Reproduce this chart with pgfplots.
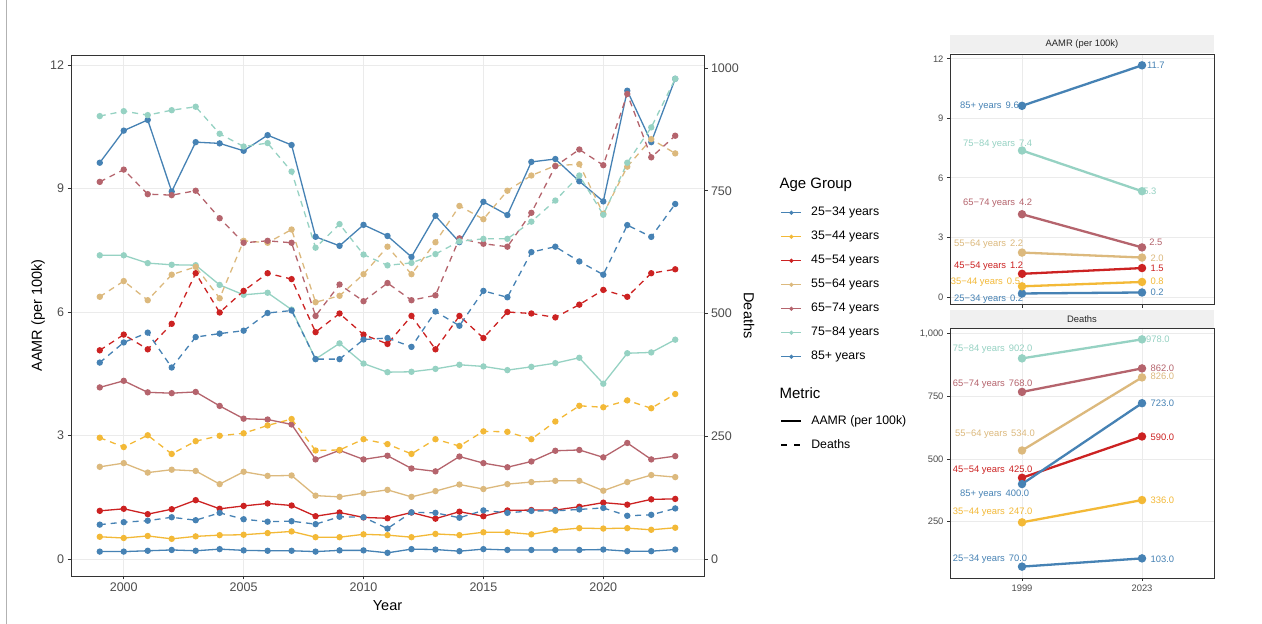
\documentclass[border=0pt]{standalone}
\usepackage{fontspec}
\setmainfont{Liberation Sans}
\usepackage{pgfplots}
\usepackage{pgfplotstable}
\pgfplotsset{compat=1.18}

\definecolor{cA}{RGB}{70,130,180}   % 25-34
\definecolor{cB}{RGB}{243,185,55}   % 35-44
\definecolor{cC}{RGB}{204,34,34}    % 45-54
\definecolor{cD}{RGB}{220,185,125}  % 55-64
\definecolor{cE}{RGB}{181,100,109}  % 65-74
\definecolor{cF}{RGB}{150,210,195}  % 75-84
\definecolor{cG}{RGB}{70,130,180}   % 85+
\definecolor{gridc}{RGB}{235,235,235}
\definecolor{framec}{RGB}{51,51,51}
\definecolor{tickc}{RGB}{77,77,77}
\definecolor{stripc}{RGB}{240,240,240}

% AAMR (per 100k) and deaths by age group, 1999-2023
\pgfplotstableread{
year a2534 a3544 a4554 a5564 a6574 a7584 a85 d2534 d3544 d4554 d5564 d6574 d7584 d85
1999 0.18 0.54 1.17 2.24 4.17 7.38 9.63 70 247 425 534 768 902 400
2000 0.18 0.51 1.22 2.33 4.33 7.38 10.41 75 228 457 566 793 912 441
2001 0.20 0.56 1.09 2.10 4.05 7.19 10.67 78 252 427 527 743 904 461
2002 0.22 0.49 1.21 2.17 4.03 7.15 8.93 85 214 479 579 741 914 390
2003 0.20 0.55 1.43 2.14 4.06 7.14 10.13 79 240 582 595 750 921 452
2004 0.24 0.58 1.22 1.82 3.72 6.66 10.10 94 251 502 531 694 866 459
2005 0.21 0.59 1.29 2.12 3.41 6.42 9.92 81 256 546 648 644 840 465
2006 0.20 0.63 1.35 2.02 3.39 6.47 10.30 76 272 582 644 648 847 501
2007 0.20 0.67 1.30 2.03 3.27 6.06 10.06 77 285 570 671 644 789 506
2008 0.18 0.53 1.04 1.54 2.42 4.86 7.83 71 221 462 523 495 634 407
2009 0.21 0.53 1.13 1.51 2.64 5.24 7.61 86 222 500 536 559 682 407
2010 0.21 0.60 1.01 1.60 2.42 4.75 8.12 85 244 457 580 525 620 447
2011 0.15 0.58 0.99 1.68 2.51 4.54 7.85 62 234 438 636 562 598 450
2012 0.24 0.53 1.13 1.51 2.20 4.55 7.34 95 214 495 580 527 603 432
2013 0.23 0.61 0.98 1.65 2.13 4.62 8.34 94 244 427 645 537 621 504
2014 0.19 0.58 1.15 1.81 2.49 4.72 7.70 84 230 495 719 653 647 475
2015 0.24 0.65 1.04 1.70 2.33 4.68 8.68 99 260 450 692 642 652 546
2016 0.22 0.65 1.18 1.82 2.23 4.59 8.36 94 259 503 750 636 652 533
2017 0.22 0.60 1.19 1.87 2.37 4.67 9.65 98 244 500 781 705 687 625
2018 0.22 0.70 1.19 1.90 2.63 4.76 9.72 98 280 492 801 800 730 636
2019 0.22 0.75 1.27 1.90 2.65 4.89 9.18 101 312 518 804 834 781 606
2020 0.23 0.74 1.37 1.66 2.47 4.26 8.69 104 309 548 703 802 701 579
2021 0.19 0.75 1.32 1.87 2.82 5.00 11.38 88 323 534 799 947 807 680
2022 0.19 0.71 1.45 2.04 2.42 5.02 10.13 90 307 582 855 818 879 656
2023 0.23 0.76 1.46 1.99 2.50 5.33 11.67 103 336 590 826 862 978 723
}\trend

% first and last year only
\pgfplotstableread{
pos a2534 a3544 a4554 a5564 a6574 a7584 a85 d2534 d3544 d4554 d5564 d6574 d7584 d85
1 0.18 0.54 1.17 2.24 4.17 7.38 9.63 70 247 425 534 768 902 400
2 0.23 0.76 1.46 1.99 2.50 5.33 11.67 103 336 590 826 862 978 723
}\ends

\newcommand{\tickfont}{\fontsize{12.5}{14}\selectfont}
\newcommand{\titlefont}{\fontsize{14.5}{17}\selectfont}
\newcommand{\labfont}{\fontsize{9.4}{11}\selectfont}

\pgfplotsset{
  base/.style={
    scale only axis, clip=false,
    axis line style={framec, line width=0.9pt},
    tick style={framec, line width=0.9pt},
    tick align=outside, major tick length=3.5pt,
    /pgf/number format/assume math mode=true,
  },
  aamr/.style={line width=1.3pt, mark=*, mark size=2.5pt},
  dths/.style={line width=1.3pt, mark=*, mark size=2.5pt,
    dash pattern=on 6pt off 5pt, mark options={solid}},
  slope/.style={line width=2.3pt, mark=*, mark size=3.0pt},
}
\tikzset{lab/.style={anchor=west, inner sep=0pt, font=\labfont}}

\begin{document}
\begin{tikzpicture}[x=1pt,y=1pt]
\useasboundingbox (0,0) rectangle (1262,624);
\fill[white] (0,0) rectangle (1262,624);
\draw[black!30, line width=0.8pt] (6.5,0) -- (6.5,624);

% ---- main panel: AAMR on the left axis ----
\begin{axis}[base,
  at={(71pt,48pt)}, anchor=south west, width=633pt, height=521pt,
  xmin=1997.8, xmax=2024.2, ymin=-0.413, ymax=12.248,
  xtick={2000,2005,...,2020}, ytick={0,3,...,12},
  tick pos=left,
  grid=major, major grid style={gridc, line width=0.9pt},
  tick label style={font=\tickfont, text=tickc},
  /pgf/number format/1000 sep={},
  xlabel={Year}, ylabel={AAMR (per 100k)},
  every axis x label/.style={at={(axis description cs:0.5,0)}, yshift=-30pt, anchor=center, font=\titlefont},
  every axis y label/.style={at={(axis description cs:-0.0521,0.5)}, rotate=90, anchor=center, font=\titlefont},
  legend style={draw=none, fill=none, inner sep=0pt, outer sep=0pt,
    at={(axis description cs:1.1212,0.7088)}, anchor=north west,
    row sep=12pt, column sep=9.3pt,
    nodes={inner sep=0pt, text height=9pt, text depth=3pt},
    font=\fontsize{12.3}{14}\selectfont},
  legend cell align=left,
  legend image code/.code={\draw[#1, line width=1.2pt, mark size=1.4pt, mark repeat=2, mark phase=2] plot coordinates {(0pt,0pt) (10pt,0pt) (20pt,0pt)};},
]
\addplot[cA, aamr] table[x=year, y=a2534]{\trend}; \addlegendentry{25−34 years}
\addplot[cB, aamr] table[x=year, y=a3544]{\trend}; \addlegendentry{35−44 years}
\addplot[cC, aamr] table[x=year, y=a4554]{\trend}; \addlegendentry{45−54 years}
\addplot[cD, aamr] table[x=year, y=a5564]{\trend}; \addlegendentry{55−64 years}
\addplot[cE, aamr] table[x=year, y=a6574]{\trend}; \addlegendentry{65−74 years}
\addplot[cF, aamr] table[x=year, y=a7584]{\trend}; \addlegendentry{75−84 years}
\addplot[cG, aamr] table[x=year, y=a85]{\trend};   \addlegendentry{85+ years}
\end{axis}

% ---- main panel: deaths on the right axis ----
\begin{axis}[base,
  at={(71pt,48pt)}, anchor=south west, width=633pt, height=521pt,
  xmin=1997.8, xmax=2024.2, ymin=-34.6, ymax=1026.4,
  axis x line=none, axis y line*=right,
  ytick={0,250,...,1000},
  tick label style={font=\tickfont, text=tickc},
  /pgf/number format/1000 sep={},
  ylabel={Deaths},
  every axis y label/.style={at={(axis description cs:1.0711,0.5)}, rotate=-90, anchor=center, font=\titlefont},
  legend style={draw=none, fill=none, inner sep=0pt, outer sep=0pt,
    at={(axis description cs:1.1212,0.309)}, anchor=north west,
    row sep=12pt, column sep=9.3pt,
    nodes={inner sep=0pt, text height=9pt, text depth=3pt},
    font=\fontsize{12.3}{14}\selectfont},
  legend cell align=left,
  legend image code/.code={\draw[#1] (0pt,0pt) -- (20pt,0pt);},
]
\addlegendimage{black, line width=1.3pt}
\addlegendentry{AAMR (per 100k)}
\addlegendimage{black, line width=1.3pt, dash pattern=on 6pt off 7pt}
\addlegendentry{Deaths}
\addplot[cA, dths, forget plot] table[x=year, y=d2534]{\trend};
\addplot[cB, dths, forget plot] table[x=year, y=d3544]{\trend};
\addplot[cC, dths, forget plot] table[x=year, y=d4554]{\trend};
\addplot[cD, dths, forget plot] table[x=year, y=d5564]{\trend};
\addplot[cE, dths, forget plot] table[x=year, y=d6574]{\trend};
\addplot[cF, dths, forget plot] table[x=year, y=d7584]{\trend};
\addplot[cG, dths, forget plot] table[x=year, y=d85]{\trend};
\end{axis}

\node[anchor=west, inner sep=0pt, font=\fontsize{15}{18}\selectfont] at (779.3,439) {Age Group};
\node[anchor=west, inner sep=0pt, font=\fontsize{15}{18}\selectfont] at (779.3,231.3) {Metric};

% ---- small panel: AAMR, first vs last year ----
\fill[stripc] (950,570.5) rectangle (1214,589);
\node[font=\labfont, text=black!85] at (1082,580) {AAMR (per 100k)};
\begin{axis}[base,
  at={(950pt,319.2pt)}, anchor=south west, width=264pt, height=250.8pt,
  xmin=0.4, xmax=2.6, ymin=-0.39, ymax=12.24,
  xtick={1,2}, xticklabels={}, ytick={0,3,...,12},
  tick pos=left, major tick length=3pt,
  grid=major, major grid style={gridc, line width=0.9pt},
  tick label style={font=\labfont, text=tickc},
]
\addplot[cA, slope] table[x=pos, y=a2534]{\ends};
\addplot[cB, slope] table[x=pos, y=a3544]{\ends};
\addplot[cC, slope] table[x=pos, y=a4554]{\ends};
\addplot[cD, slope] table[x=pos, y=a5564]{\ends};
\addplot[cE, slope] table[x=pos, y=a6574]{\ends};
\addplot[cF, slope] table[x=pos, y=a7584]{\ends};
\addplot[cG, slope] table[x=pos, y=a85]{\ends};
\node[lab, text=cG] at (axis cs:0.483,9.60) {85+ years\hspace{4pt}9.6};
\node[lab, text=cF] at (axis cs:0.508,7.72) {75−84 years\hspace{4pt}7.4};
\node[lab, text=cE] at (axis cs:0.508,4.74) {65−74 years\hspace{4pt}4.2};
\node[lab, text=cD] at (axis cs:0.433,2.66) {55−64 years\hspace{4pt}2.2};
\node[lab, text=cC] at (axis cs:0.433,1.56) {45−54 years\hspace{4pt}1.2};
\node[lab, text=cB] at (axis cs:0.406,0.77) {35−44 years\hspace{4pt}0.5};
\node[lab, text=cA] at (axis cs:0.433,-0.12) {25−34 years\hspace{4pt}0.2};
\node[lab, text=cG] at (axis cs:2.04,11.66) {11.7};
\node[lab, text=cF] at (axis cs:2.01,5.33) {5.3};
\node[lab, text=cE] at (axis cs:2.06,2.76) {2.5};
\node[lab, text=cD] at (axis cs:2.07,1.97) {2.0};
\node[lab, text=cC] at (axis cs:2.07,1.47) {1.5};
\node[lab, text=cB] at (axis cs:2.07,0.77) {0.8};
\node[lab, text=cA] at (axis cs:2.07,0.24) {0.2};
\end{axis}

% ---- small panel: deaths, first vs last year ----
\fill[stripc] (950,296) rectangle (1214,314);
\node[font=\labfont, text=black!85] at (1082,305) {Deaths};
\begin{axis}[base,
  at={(950pt,46pt)}, anchor=south west, width=264pt, height=250pt,
  xmin=0.4, xmax=2.6, ymin=24.6, ymax=1023.4,
  xtick={1,2}, xticklabels={1999,2023}, ytick={250,500,750,1000},
  tick pos=left, major tick length=3pt,
  grid=major, major grid style={gridc, line width=0.9pt},
  tick label style={font=\labfont, text=tickc},
]
\addplot[cA, slope] table[x=pos, y=d2534]{\ends};
\addplot[cB, slope] table[x=pos, y=d3544]{\ends};
\addplot[cC, slope] table[x=pos, y=d4554]{\ends};
\addplot[cD, slope] table[x=pos, y=d5564]{\ends};
\addplot[cE, slope] table[x=pos, y=d6574]{\ends};
\addplot[cF, slope] table[x=pos, y=d7584]{\ends};
\addplot[cG, slope] table[x=pos, y=d85]{\ends};
\node[lab, text=cF] at (axis cs:0.4225,937) {75−84 years\hspace{4pt}902.0};
\node[lab, text=cE] at (axis cs:0.4225,797.5) {65−74 years\hspace{4pt}768.0};
\node[lab, text=cD] at (axis cs:0.442,600.6) {55−64 years\hspace{4pt}534.0};
\node[lab, text=cC] at (axis cs:0.4225,455.3) {45−54 years\hspace{4pt}425.0};
\node[lab, text=cG] at (axis cs:0.483,361) {85+ years\hspace{4pt}400.0};
\node[lab, text=cB] at (axis cs:0.4225,286.3) {35−44 years\hspace{4pt}247.0};
\node[lab, text=cA] at (axis cs:0.4225,98.6) {25−34 years\hspace{4pt}70.0};
\node[lab, text=cF] at (axis cs:2.033,978.4) {978.0};
\node[lab, text=cE] at (axis cs:2.07,864) {862.0};
\node[lab, text=cD] at (axis cs:2.07,829.5) {826.0};
\node[lab, text=cG] at (axis cs:2.07,723) {723.0};
\node[lab, text=cC] at (axis cs:2.07,588.7) {590.0};
\node[lab, text=cB] at (axis cs:2.07,334.3) {336.0};
\node[lab, text=cA] at (axis cs:2.07,99.8) {103.0};
\end{axis}
\end{tikzpicture}
\end{document}
